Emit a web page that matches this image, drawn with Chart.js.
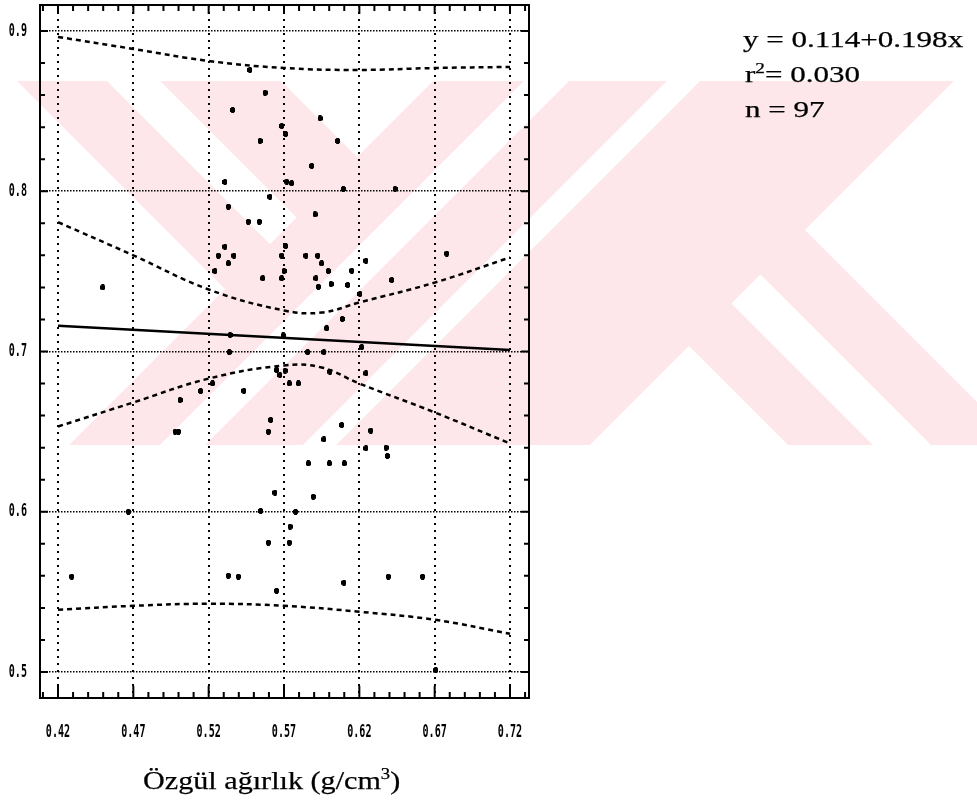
<!DOCTYPE html>
<html>
<head>
<meta charset="utf-8">
<script src="https://cdn.jsdelivr.net/npm/chart.js@4.4.1/dist/chart.umd.min.js"></script>
<style>
    body { margin: 0; background: #fff; overflow: hidden; }
    #wrap { position: relative; width: 977px; height: 812px; }
    #plot { position: absolute; left: 0; top: 0; }
    .txt { position: absolute; font-family: 'Liberation Serif', 'Times New Roman', serif; color: #000;
           line-height: 1; white-space: nowrap; transform-origin: 0 0; -webkit-text-stroke: 0.25px #000; }
    .txt sup { line-height: 0; font-size: 0.62em; }
</style>
</head>
<body>
<div id="wrap">
    <canvas id="plot" width="977" height="812"></canvas>
    <div class="txt" id="eq1" style="left:743px; top:28px; font-size:23px; transform:scaleX(1.35)">y = 0.114+0.198x</div>
    <div class="txt" id="eq2" style="left:745px; top:63px; font-size:23px; transform:scaleX(1.35)">r<sup>2</sup>= 0.030</div>
    <div class="txt" id="eq3" style="left:745px; top:98px; font-size:23px; transform:scaleX(1.35)">n = 97</div>
    <div class="txt" id="xtitle" style="left:143px; top:768px; font-size:26px; transform:scaleX(1.16)">Özgül ağırlık (g/cm<sup>3</sup>)</div>
</div>
<script>
// measured points (specific gravity vs y)
const pointX = [0.5474, 0.5574, 0.5359, 0.5939, 0.5685, 0.5711, 0.6056, 0.5541, 0.5884, 0.5718,
    0.5751, 0.5308, 0.6094, 0.6437, 0.5607, 0.5330, 0.5906, 0.5463, 0.5536, 0.5711,
    0.5308, 0.6780, 0.5264, 0.5368, 0.5685, 0.5846, 0.5924, 0.6244, 0.5330, 0.5950,
    0.5242, 0.5700, 0.5994, 0.6150, 0.5559, 0.5685, 0.5912, 0.6415, 0.5928, 0.6012,
    0.6123, 0.4497, 0.6204, 0.6087, 0.5983, 0.5342, 0.5695, 0.6216, 0.5337, 0.5857,
    0.5965, 0.5651, 0.5673, 0.5707, 0.6005, 0.6244, 0.5735, 0.5795, 0.5226, 0.5147,
    0.5434, 0.5010, 0.5612, 0.6083, 0.5596, 0.6276, 0.4977, 0.4999, 0.5965, 0.6244,
    0.6377, 0.6386, 0.5861, 0.6001, 0.6100, 0.5640, 0.5894, 0.4667, 0.5545, 0.5777,
    0.5740, 0.5596, 0.5735, 0.4291, 0.5330, 0.5397, 0.6392, 0.6620, 0.6098, 0.5651,
    0.6707];
const pointY = [0.8757, 0.8615, 0.8507, 0.8455, 0.8407, 0.8357, 0.8314, 0.8314, 0.8158, 0.8060,
    0.8050, 0.8058, 0.8014, 0.8014, 0.7966, 0.7904, 0.7856, 0.7810, 0.7810, 0.7658,
    0.7654, 0.7611, 0.7598, 0.7598, 0.7598, 0.7598, 0.7598, 0.7566, 0.7550, 0.7550,
    0.7502, 0.7502, 0.7502, 0.7504, 0.7457, 0.7457, 0.7457, 0.7446, 0.7404, 0.7421,
    0.7415, 0.7400, 0.7359, 0.7203, 0.7145, 0.7103, 0.7100, 0.7027, 0.6996, 0.6996,
    0.6996, 0.6884, 0.6853, 0.6880, 0.6874, 0.6864, 0.6801, 0.6801, 0.6801, 0.6753,
    0.6755, 0.6697, 0.6573, 0.6541, 0.6500, 0.6506, 0.6500, 0.6500, 0.6452, 0.6396,
    0.6400, 0.6348, 0.6302, 0.6302, 0.6302, 0.6119, 0.6094, 0.6000, 0.6005, 0.6000,
    0.5907, 0.5807, 0.5807, 0.5595, 0.5601, 0.5595, 0.5595, 0.5595, 0.5557, 0.5507,
    0.5012];

// fitted line and confidence / prediction bands
const fitX = [0.42, 0.72];
const fitY = [0.716, 0.701];
const bandX = [0.42, 0.47, 0.52, 0.57, 0.595, 0.62, 0.67, 0.72];
const upperInner = [0.7807, 0.7600, 0.7387, 0.7256, 0.7243, 0.7306, 0.7430, 0.7587];
const lowerInner = [0.6532, 0.6682, 0.6831, 0.6913, 0.6900, 0.6800, 0.6620, 0.6426];
const outerX = [0.42, 0.47, 0.52, 0.57, 0.62, 0.67, 0.72];
const upperOuter = [0.8963, 0.8888, 0.8813, 0.8769, 0.8757, 0.8769, 0.8776];
const lowerOuter = [0.5388, 0.5413, 0.5426, 0.5413, 0.5376, 0.5326, 0.5239];

const xTicks = [0.42, 0.47, 0.52, 0.57, 0.62, 0.67, 0.72];
const yTicks = [0.5, 0.6, 0.7, 0.8, 0.9];

function pairs(xs, ys) {
    return xs.map((x, i) => ({ x: x, y: ys[i] }));
}

// small black blob like the printed markers
const mark = document.createElement('canvas');
mark.width = 5;
mark.height = 6;
const mctx = mark.getContext('2d');
mctx.fillStyle = '#000';
mctx.fillRect(0, 1, 5, 4);
mctx.fillRect(1, 0, 3, 6);

function bandLine(xs, ys) {
    return {
        type: 'line',
        data: pairs(xs, ys),
        borderColor: '#000',
        borderWidth: 2.5,
        borderDash: [5, 4],
        pointRadius: 0,
        tension: 0.4,
        fill: false
    };
}

// pink background watermark
const watermark = {
    id: 'watermark',
    beforeDraw(chart) {
        const c = chart.ctx;
        const y0 = 81, y1 = 445;
        c.save();
        c.fillStyle = '#fde7eb';
        c.beginPath();
        c.rect(0, y0, chart.width, y1 - y0);
        c.clip();
        // "/" stripe, x+y in [a,b]
        const slash = (a, b) => {
            c.beginPath();
            c.moveTo(a - y0, y0); c.lineTo(b - y0, y0);
            c.lineTo(b - y1, y1); c.lineTo(a - y1, y1);
            c.closePath(); c.fill();
        };
        // "\" stripe, x-y in [a,b], only where x+y is in [lo,hi]
        const back = (a, b, lo, hi) => {
            c.save();
            c.beginPath();
            c.moveTo(lo - y0, y0); c.lineTo(hi - y0, y0);
            c.lineTo(hi - y1, y1); c.lineTo(lo - y1, y1);
            c.closePath(); c.clip();
            c.beginPath();
            c.moveTo(a + y0, y0); c.lineTo(b + y0, y0);
            c.lineTo(b + y1, y1); c.lineTo(a + y1, y1);
            c.closePath(); c.fill();
            c.restore();
        };
        back(-64, 26, -500, 560);
        back(79, 200, -500, 560);
        slash(514, 605);
        slash(650, 748);
        slash(781, 1035);
        back(486, 575, 1000, 3000);
        back(343, 428, 1000, 3000);
        c.restore();
    }
};

// frame with inward tick marks, plus the narrow bold tick labels
const frame = {
    id: 'frame',
    afterDraw(chart) {
        const c = chart.ctx;
        const a = chart.chartArea;
        const sx = chart.scales.x, sy = chart.scales.y;
        c.save();
        c.strokeStyle = '#000';
        c.lineWidth = 2;
        c.strokeRect(a.left, a.top, a.right - a.left, a.bottom - a.top);
        c.beginPath();
        for (let k = 41; k <= 73; k++) {
            const px = sx.getPixelForValue(k / 100);
            const major = (k % 5) === 2;
            c.moveTo(px, a.bottom); c.lineTo(px, a.bottom - (major ? 12 : 6));
            c.moveTo(px, a.top); c.lineTo(px, a.top + (major ? 9 : 6));
        }
        for (let k = 50; k <= 90; k += 2) {
            const py = sy.getPixelForValue(k / 100);
            const major = (k % 10) === 0;
            c.moveTo(a.left, py); c.lineTo(a.left + (major ? 8 : 5), py);
            c.moveTo(a.right, py); c.lineTo(a.right - (major ? 8 : 5), py);
        }
        c.stroke();

        c.fillStyle = '#000';
        c.font = "bold 18px 'DejaVu Sans Mono', monospace";
        c.textBaseline = 'middle';
        c.textAlign = 'center';
        xTicks.forEach(v => {
            c.save();
            c.translate(sx.getPixelForValue(v), a.bottom + 34);
            c.scale(0.56, 1);
            c.fillText(v.toFixed(2), 0, 0);
            c.restore();
        });
        c.textAlign = 'right';
        yTicks.forEach(v => {
            c.save();
            c.translate(27, sy.getPixelForValue(v));
            c.scale(0.56, 1);
            c.fillText(v.toFixed(1), 0, 0);
            c.restore();
        });
        c.restore();
    }
};

new Chart(document.getElementById('plot'), {
    type: 'scatter',
    data: {
        datasets: [
            {
                type: 'line',
                data: pairs(fitX, fitY),
                borderColor: '#000',
                borderWidth: 2.5,
                pointRadius: 0,
                fill: false
            },
            bandLine(bandX, upperInner),
            bandLine(bandX, lowerInner),
            bandLine(outerX, upperOuter),
            bandLine(outerX, lowerOuter),
            {
                data: pairs(pointX, pointY),
                pointStyle: mark,
                pointRadius: 3,
                showLine: false
            }
        ]
    },
    options: {
        responsive: false,
        animation: false,
        devicePixelRatio: 1,
        layout: { padding: { top: 5, right: 448, left: 0, bottom: 0 } },
        plugins: {
            legend: { display: false },
            tooltip: { enabled: false }
        },
        scales: {
            x: {
                type: 'linear',
                min: 0.40805,
                max: 0.73261,
                afterBuildTicks: s => { s.ticks = xTicks.map(v => ({ value: v })); },
                afterFit: s => { s.height = 114; },
                grid: { color: '#000', lineWidth: 2, drawTicks: false },
                border: { display: false, dash: [2, 5] },
                ticks: { display: false }
            },
            y: {
                type: 'linear',
                min: 0.48378,
                max: 0.91622,
                afterBuildTicks: s => { s.ticks = yTicks.map(v => ({ value: v })); },
                afterFit: s => { s.width = 40; },
                grid: { color: '#000', lineWidth: 1.5, drawTicks: false },
                border: { display: false, dash: [1.5, 1.5] },
                ticks: { display: false }
            }
        }
    },
    plugins: [watermark, frame]
});
</script>
</body>
</html>
